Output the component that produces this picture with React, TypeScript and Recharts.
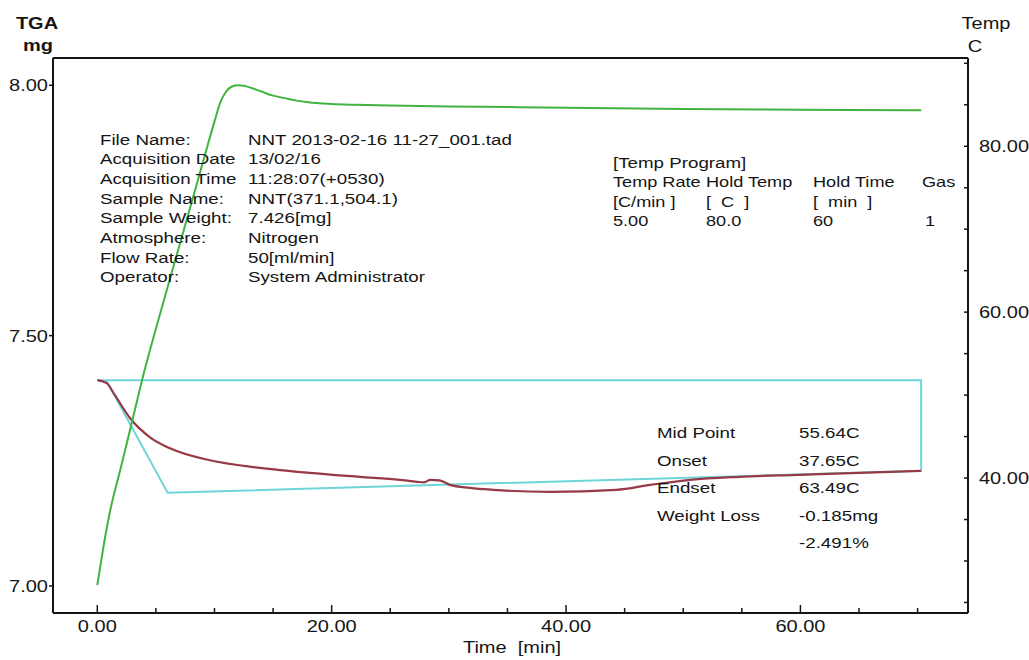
import { LineChart, Line, XAxis, YAxis, ReferenceLine } from "recharts";

// TGA weight (mg) vs time (min)
const tgaTime = [0, 0.8, 1.5, 2.8, 4.5, 6.2, 9.6, 13.9, 18.1, 22.4, 25.8, 27.3, 27.9, 28.4, 29.2, 30.1, 31.8, 33.8, 38.6, 44.3, 47.2, 50.6, 54.8, 59.9, 65.0, 70.3];
const tgaWeight = [7.411, 7.405, 7.381, 7.335, 7.297, 7.275, 7.251, 7.236, 7.226, 7.218, 7.212, 7.208, 7.207, 7.212, 7.211, 7.202, 7.196, 7.192, 7.188, 7.192, 7.202, 7.212, 7.218, 7.222, 7.226, 7.23];

// sample temperature (C) vs time (min)
const tempTime = [0, 0.5, 1, 2, 3, 4, 5, 6, 7, 8, 9, 10, 10.5, 11, 11.5, 12, 12.5, 13, 14, 15, 16, 17, 18, 20, 22, 25, 30, 40, 50, 60, 70.3];
const tempValue = [27.1, 31.5, 35.4, 41.2, 47.0, 52.8, 58.0, 63.0, 68.0, 73.0, 78.0, 83.0, 85.3, 86.6, 87.2, 87.35, 87.3, 87.1, 86.6, 86.1, 85.8, 85.5, 85.3, 85.1, 85.0, 84.9, 84.8, 84.65, 84.5, 84.4, 84.35];

// analysis (step) construction lines
const stepTime = [0, 70.3, 70.3, 6.0, 0.8, 0];
const stepWeight = [7.411, 7.411, 7.23, 7.186, 7.409, 7.411];

const xTicks = [0, 5, 10, 15, 20, 25, 30, 35, 40, 45, 50, 55, 60, 65, 70];
const leftTicks = [7.0, 7.5, 8.0];
const rightTicks = [25, 30, 35, 40, 45, 50, 55, 60, 65, 70, 75, 80, 85, 90];

const infoLabels = ["File Name:", "Acquisition Date", "Acquisition Time", "Sample Name:", "Sample Weight:", "Atmosphere:", "Flow Rate:", "Operator:"];
const infoValues = ["NNT 2013-02-16 11-27_001.tad", "13/02/16", "11:28:07(+0530)", "NNT(371.1,504.1)", "7.426[mg]", "Nitrogen", "50[ml/min]", "System Administrator"];

const programHeader = ["Temp Rate", "Hold Temp", "Hold Time", "Gas"];
const programUnits = ["[C/min ]", "[  C  ]", "[  min  ]", ""];
const programValues = ["5.00", "80.0", "60", "1"];

const resultLabels = ["Mid Point", "Onset", "Endset", "Weight Loss", ""];
const resultValues = ["55.64C", "37.65C", "63.49C", "-0.185mg", "-2.491%"];

const tgaData = tgaTime.map((t, i) => ({ t, w: tgaWeight[i] }));
const tempData = tempTime.map((t, i) => ({ t, temp: tempValue[i] }));
const stepData = stepTime.map((t, i) => ({ t, w: stepWeight[i] }));

const FONT = "'Liberation Sans', Arial, sans-serif";
const INK = "#151515";
const SX = 1.25; // the original print is stretched horizontally

function T({ x, y, children, anchor = "start", size = 15, bold = false }: any) {
  return (
    <text
      transform={`translate(${x},${y}) scale(${SX},1)`}
      textAnchor={anchor}
      fontFamily={FONT}
      fontSize={size}
      fontWeight={bold ? 700 : 400}
      fill={INK}
      style={{ whiteSpace: "pre" }}
    >
      {children}
    </text>
  );
}

function LeftTick({ x, y, payload }: any) {
  return (
    <g>
      <line x1={x - 4} x2={x} y1={y} y2={y} stroke={INK} strokeWidth={1.5} />
      <T x={x - 5} y={y + 6} anchor="end" size={16}>
        {Number(payload.value).toFixed(2)}
      </T>
    </g>
  );
}

function RightTick({ x, y, payload }: any) {
  const v = Number(payload.value);
  const major = v === 40 || v === 60 || v === 80;
  return (
    <g>
      <line x1={x - 4} x2={x} y1={y} y2={y} stroke={INK} strokeWidth={1.5} />
      {major && (
        <T x={x + 11} y={y + 6} size={16}>
          {v.toFixed(2)}
        </T>
      )}
    </g>
  );
}

function BottomTick({ x, y, payload }: any) {
  const v = Number(payload.value);
  const major = v % 20 === 0;
  return (
    <g>
      <line x1={x} x2={x} y1={y - (major ? 8 : 5)} y2={y} stroke={INK} strokeWidth={1.5} />
      {major && (
        <T x={x} y={y + 19} anchor="middle" size={16}>
          {v.toFixed(2)}
        </T>
      )}
    </g>
  );
}

export default function App() {
  return (
    <div style={{ position: "absolute", left: 0, top: 0, width: 1029, height: 660, background: "#fff" }}>
      <LineChart width={1029} height={660} margin={{ top: 58, right: 0, bottom: 0, left: 0 }}>
        <XAxis
          dataKey="t"
          type="number"
          domain={[-3.78, 74.3]}
          ticks={xTicks}
          allowDataOverflow
          height={47}
          tickSize={0}
          tickMargin={0}
          tickLine={false}
          tick={<BottomTick />}
          axisLine={{ stroke: INK, strokeWidth: 2 }}
        />
        <YAxis
          yAxisId="left"
          type="number"
          domain={[6.946, 8.0545]}
          ticks={leftTicks}
          allowDataOverflow
          width={53}
          tickSize={0}
          tickMargin={0}
          tickLine={false}
          tick={<LeftTick />}
          axisLine={{ stroke: INK, strokeWidth: 2 }}
        />
        <YAxis
          yAxisId="right"
          orientation="right"
          type="number"
          domain={[23.73, 90.64]}
          ticks={rightTicks}
          allowDataOverflow
          width={61}
          tickSize={0}
          tickMargin={0}
          tickLine={false}
          tick={<RightTick />}
          axisLine={{ stroke: INK, strokeWidth: 2 }}
        />
        <ReferenceLine yAxisId="left" y={8.0545} stroke={INK} strokeWidth={2} />
        <Line
          yAxisId="left"
          data={stepData}
          dataKey="w"
          type="linear"
          stroke="#6fd5da"
          strokeWidth={2}
          dot={false}
          isAnimationActive={false}
        />
        <Line
          yAxisId="left"
          data={tgaData}
          dataKey="w"
          type="monotone"
          stroke="#963a46"
          strokeWidth={2.2}
          dot={false}
          isAnimationActive={false}
        />
        <Line
          yAxisId="right"
          data={tempData}
          dataKey="temp"
          type="monotone"
          stroke="#40b440"
          strokeWidth={2}
          dot={false}
          isAnimationActive={false}
        />
      </LineChart>

      <svg width={1029} height={660} style={{ position: "absolute", left: 0, top: 0, pointerEvents: "none" }}>
        <T x={37} y={29} anchor="middle" size={16} bold>TGA</T>
        <T x={38} y={51} anchor="middle" size={16} bold>mg</T>
        <T x={986} y={29} anchor="middle" size={16}>Temp</T>
        <T x={975} y={52} anchor="middle" size={16}>C</T>
        <T x={512} y={653} anchor="middle" size={16}>Time  [min]</T>

        {infoLabels.map((s, i) => (
          <T key={"l" + i} x={100} y={144.5 + i * 19.7}>{s}</T>
        ))}
        {infoValues.map((s, i) => (
          <T key={"v" + i} x={248} y={144.5 + i * 19.7}>{s}</T>
        ))}

        <T x={613} y={167.5}>[Temp Program]</T>
        {[613, 706, 813, 922].map((cx, i) => (
          <g key={"p" + i}>
            <T x={cx} y={187} size={14.5}>{programHeader[i]}</T>
            <T x={cx} y={206.5} size={14.5}>{programUnits[i]}</T>
            <T x={i === 3 ? 925 : cx} y={226} size={14.5}>{programValues[i]}</T>
          </g>
        ))}

        {resultLabels.map((s, i) => (
          <g key={"r" + i}>
            <T x={657} y={438 + i * 27.6}>{s}</T>
            <T x={799} y={438 + i * 27.6}>{resultValues[i]}</T>
          </g>
        ))}
      </svg>
    </div>
  );
}
